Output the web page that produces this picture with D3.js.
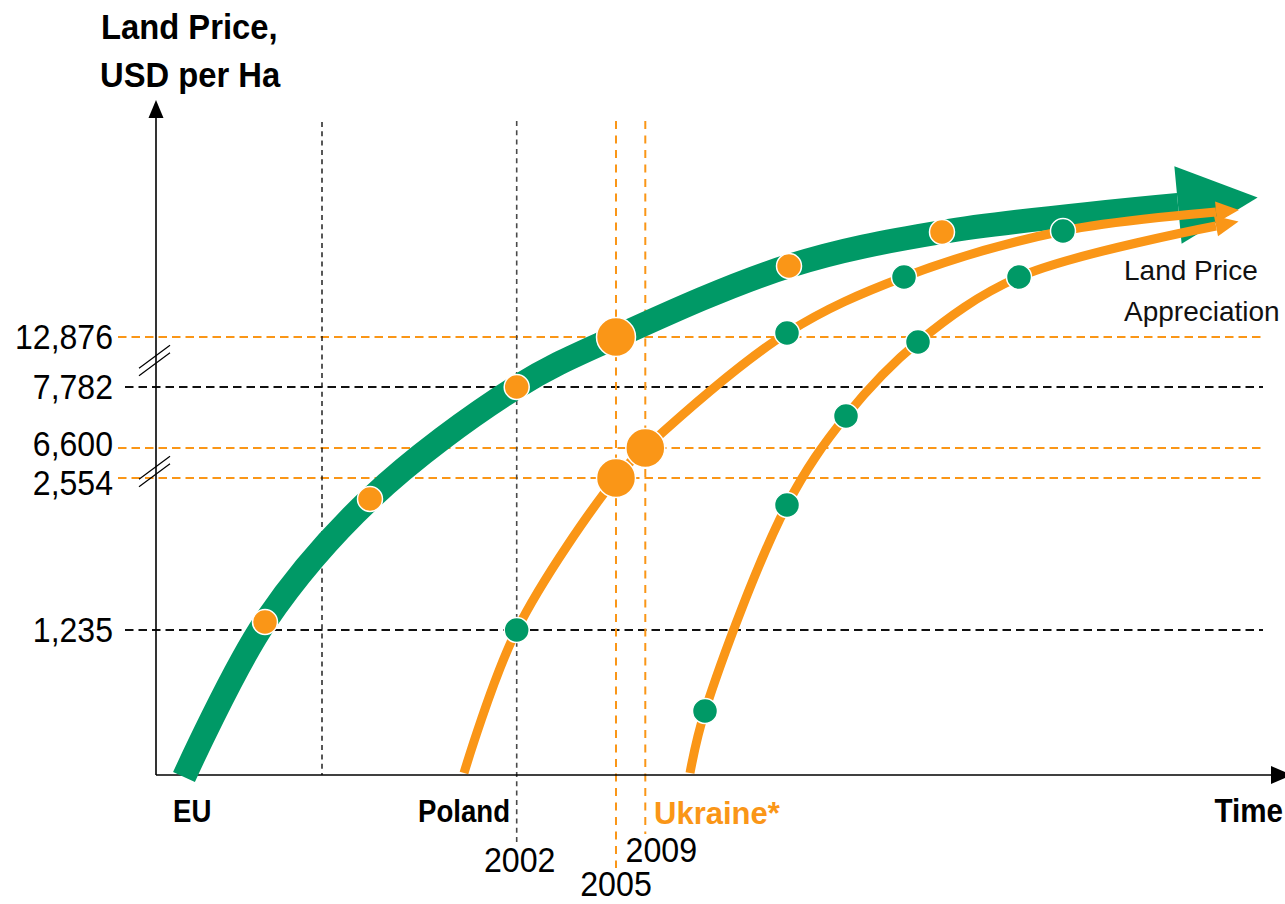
<!DOCTYPE html>
<html>
<head>
<meta charset="utf-8">
<script src="https://cdn.jsdelivr.net/npm/d3@7"></script>
<style>
  html, body { margin: 0; padding: 0; background: #fff; }
  svg { display: block; font-family: "Liberation Sans", Arial, sans-serif; }
</style>
</head>
<body>
<svg id="chart" width="1285" height="904"></svg>
<script>
// ---- data -------------------------------------------------------------
// Price levels marked on the (broken) value axis, USD per ha
const priceTicks = [1235, 2554, 6600, 7782, 12876];
// Reference years on the time axis and the market each one belongs to
const refYears = [2002, 2005, 2009];
const refYearGroup = ["Poland", "Ukraine", "Ukraine"];
// Unlabelled guide on the time axis (time index)
const timeGuides = [16.6];

const countries = ["EU", "Poland", "Ukraine*"];

// Observed prices: market, year, USD per ha
const refPoints = [
  { country: "EU", year: 2002, price: 7782 },
  { country: "Poland", year: 2002, price: 1235 },
  { country: "EU", year: 2005, price: 12876 },
  { country: "Poland", year: 2005, price: 2554 },
  { country: "Poland", year: 2009, price: 6600 }
];

// Appreciation paths: [time index, price level]
const euKnots = [[2.8, -0.2], [102.2, 57.0]];
const polandKnots = [[30.8, 0.2], [106.0, 56.3]];
const ukraineKnots = [[53.4, 0.2], [106.0, 54.9]];

// Illustrative stages along each path: [time index, price level]
const euDots = [[10.9, 15.3], [21.4, 27.6], [63.3, 50.9], [78.6, 54.3]];
const polandDots = [[63.1, 44.2], [74.8, 49.8], [90.7, 54.4]];
const ukraineDots = [[54.9, 6.4], [63.1, 27.0], [69.0, 35.9], [76.2, 43.3], [86.3, 49.8]];

// ---- scales -----------------------------------------------------------
const GREEN = "#009966";
const ORANGE = "#FA9617";

const x = d3.scaleLinear().domain([0, 113]).range([156, 1286]);
const y = d3.scaleLinear().domain([0, 67.5]).range([775, 100]);
// broken axis: each marked price sits on its own level
const priceLevel = d3.scaleLinear().domain(priceTicks).range([14.5, 29.7, 32.7, 38.8, 43.8]);
// schematic time axis: reference years placed on the time index
const yearTime = d3.scaleLinear().domain(refYears).range([36.07, 46.0, 48.93]);

const groupColor = g => (g === "Ukraine" ? ORANGE : "#111");
const yearGroup = yr => refYearGroup[refYears.indexOf(yr)];
const fmt = d3.format(",");

const svg = d3.select("#chart");

// ---- helpers ----------------------------------------------------------
function label(px, py, text, o) {
  return svg.append("text")
    .attr("transform", `translate(${px},${py}) scale(${o.sx || 1},1)`)
    .attr("text-anchor", o.anchor || "start")
    .attr("font-size", o.size)
    .attr("font-weight", o.weight || "normal")
    .attr("fill", o.fill || "#000")
    .text(text);
}

function arrowHead(node, len, hw, fill) {
  const L = node.getTotalLength();
  const p1 = node.getPointAtLength(L);
  const p0 = node.getPointAtLength(L - 8);
  const a = Math.atan2(p1.y - p0.y, p1.x - p0.x) * 180 / Math.PI;
  svg.append("path")
    .attr("d", `M0,${-hw}L${len},0L0,${hw}Z`)
    .attr("transform", `translate(${p1.x},${p1.y}) rotate(${a})`)
    .attr("fill", fill);
}

// ---- reference lines --------------------------------------------------
const priceGroup = p => {
  const r = refPoints.find(d => d.price === p);
  return yearGroup(r.year);
};

// horizontal price guides
svg.append("g").selectAll("line").data(priceTicks).join("line")
  .attr("x1", d => (priceGroup(d) === "Ukraine" ? 118 : 125))
  .attr("x2", 1263)
  .attr("y1", d => y(priceLevel(d)))
  .attr("y2", d => y(priceLevel(d)))
  .attr("stroke", d => groupColor(priceGroup(d)))
  .attr("stroke-width", 1.8)
  .attr("stroke-dasharray", "8.5,5");

// unlabelled time guide
svg.append("g").selectAll("line").data(timeGuides).join("line")
  .attr("x1", d => x(d)).attr("x2", d => x(d))
  .attr("y1", 122).attr("y2", y(0))
  .attr("stroke", "#111").attr("stroke-width", 1.4)
  .attr("stroke-dasharray", "5,4.3");

// reference-year guides, ending just above their labels
const yearLabelBase = { 2002: 872, 2005: 896, 2009: 862 };
const yearLabelShift = { 2002: 3, 2005: 0, 2009: 16 };
svg.append("g").selectAll("line").data(refYears).join("line")
  .attr("x1", d => x(yearTime(d))).attr("x2", d => x(yearTime(d)))
  .attr("y1", 121)
  .attr("y2", d => yearLabelBase[d] - 28)
  .attr("stroke", d => (yearGroup(d) === "Ukraine" ? ORANGE : "#4a4a4a"))
  .attr("stroke-width", d => (yearGroup(d) === "Ukraine" ? 2 : 1.6))
  .attr("stroke-dasharray", d => (yearGroup(d) === "Ukraine" ? "8,6.5" : "5,4.3"));

// ---- axes -------------------------------------------------------------
svg.append("line").attr("x1", x(0)).attr("x2", 1274).attr("y1", y(0)).attr("y2", y(0))
  .attr("stroke", "#000").attr("stroke-width", 1.6);
svg.append("path").attr("d", `M1271,${y(0) - 9}L1292,${y(0)}L1271,${y(0) + 9}Z`).attr("fill", "#000");
svg.append("line").attr("x1", x(0)).attr("x2", x(0)).attr("y1", y(0)).attr("y2", 114)
  .attr("stroke", "#000").attr("stroke-width", 1.6);
svg.append("path").attr("d", `M${x(0) - 7.5},118L${x(0)},100L${x(0) + 7.5},118Z`).attr("fill", "#000");

// axis break marks
const breakLevels = [41.5, 30.4];
breakLevels.forEach(lv => {
  [-3.7, 3.7].forEach(off => {
    svg.append("line")
      .attr("x1", x(0) - 17).attr("y1", y(lv) + off + 12)
      .attr("x2", x(0) + 14).attr("y2", y(lv) + off - 11)
      .attr("stroke", "#000").attr("stroke-width", 1.2);
  });
});

// ---- appreciation paths -----------------------------------------------
const line = d3.line()
  .x(d => x(d[0])).y(d => y(d[1]))
  .curve(d3.curveCatmullRom.alpha(0.5));

const refXY = c => refPoints.filter(d => d.country === c)
  .map(d => [yearTime(d.year), priceLevel(d.price), d]);

const paths = [
  { name: "EU", knots: euKnots, dots: euDots, color: GREEN, width: 24, head: [80, 39] },
  { name: "Poland", knots: polandKnots, dots: polandDots, color: ORANGE, width: 9, head: [23, 10.5] },
  { name: "Ukraine*", knots: ukraineKnots, dots: ukraineDots, color: ORANGE, width: 9, head: [23, 10.5] }
];

paths.forEach(p => {
  p.refs = refXY(p.name);
  p.points = [...p.knots, ...p.dots, ...p.refs.map(r => [r[0], r[1]])]
    .sort((a, b) => a[0] - b[0]);
  const node = svg.append("path")
    .attr("d", line(p.points))
    .attr("fill", "none")
    .attr("stroke", p.color)
    .attr("stroke-width", p.width)
    .attr("stroke-linecap", "butt")
    .node();
  arrowHead(node, p.head[0], p.head[1], p.color);
});

// markers: plain stages and the observed (labelled) prices
paths.forEach(p => {
  const plainFill = p.name === "EU" ? ORANGE : GREEN;
  svg.append("g").selectAll("circle").data(p.dots).join("circle")
    .attr("cx", d => x(d[0])).attr("cy", d => y(d[1]))
    .attr("r", 12.5)
    .attr("fill", plainFill)
    .attr("stroke", "#fff").attr("stroke-width", 1.5);
  svg.append("g").selectAll("circle").data(p.refs).join("circle")
    .attr("cx", d => x(d[0])).attr("cy", d => y(d[1]))
    .attr("r", d => (yearGroup(d[2].year) === "Ukraine" ? 19.5 : 12.5))
    .attr("fill", d => (yearGroup(d[2].year) === "Ukraine" ? ORANGE : plainFill))
    .attr("stroke", "#fff").attr("stroke-width", 1.5);
});

// ---- text -------------------------------------------------------------
label(101, 39, "Land Price,", { size: 36, weight: "bold", sx: 0.91 });
label(100, 87, "USD per Ha", { size: 36, weight: "bold", sx: 0.91 });

// price tick labels, nudged apart where two levels sit close together
const tickPos = priceTicks.map(p => ({ p, base: y(priceLevel(p)) + 12 }))
  .sort((a, b) => a.base - b.base);
for (let i = 1; i < tickPos.length; i++) {
  const gap = tickPos[i].base - tickPos[i - 1].base;
  if (gap < 39) {
    const push = (39 - gap) / 2;
    tickPos[i - 1].base -= push;
    tickPos[i].base += push;
  }
}
tickPos.forEach(t => label(113, t.base, fmt(t.p), { size: 36, anchor: "end", sx: 0.89 }));

// reference years
refYears.forEach(yr => {
  label(x(yearTime(yr)) + yearLabelShift[yr], yearLabelBase[yr], String(yr),
    { size: 35, anchor: "middle", sx: 0.92 });
});

// market names under each path's start
label(173, 822, countries[0], { size: 31, weight: "bold", sx: 0.89 });
label(510, 822, countries[1], { size: 31, weight: "bold", anchor: "end", sx: 0.89 });
label(654, 824, countries[2], { size: 31, weight: "bold", sx: 1.0, fill: ORANGE });

// time axis title, right-aligned to the page edge
label(1283, 822, "Time", { size: 34, weight: "bold", anchor: "end", sx: 0.87 });

label(1124, 280, "Land Price", { size: 28, fill: "#111" });
label(1124, 321, "Appreciation", { size: 28, fill: "#111" });
</script>
</body>
</html>
